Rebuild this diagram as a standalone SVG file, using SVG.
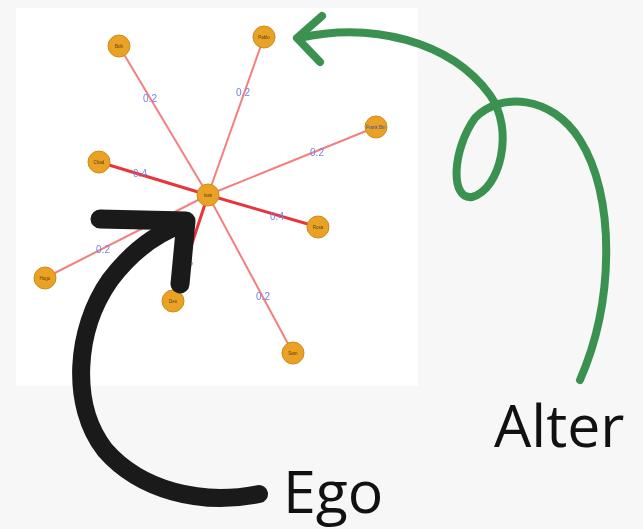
<svg xmlns="http://www.w3.org/2000/svg" width="643" height="529" viewBox="0 0 643 529">
  <defs>
    <filter id="soft" x="-5%" y="-5%" width="110%" height="110%">
      <feGaussianBlur stdDeviation="0.6"/>
    </filter>
    <style>
      .edge { stroke: #f37f7f; stroke-width: 2; fill: none; }
      .edge.strong { stroke: #e8343a; stroke-width: 3; }
      .node circle { fill: #e9a226; stroke: #cf8a14; stroke-width: 1; }
      .node text { font-family: "Liberation Sans", Arial, sans-serif; font-size: 4.5px; fill: #5a3a10; text-anchor: middle; }
      .wlabel { font-family: "Liberation Sans", Arial, sans-serif; font-size: 10px; fill: #7482de; text-anchor: middle; }
      .callout { font-family: "Open Sans", "Noto Sans", sans-serif; font-size: 59px; fill: #111111; }
      .pointer { fill: none; stroke-linecap: round; stroke-linejoin: round; }
    </style>
  </defs>

  <rect x="0" y="0" width="643" height="529" fill="#f7f7f7"/>
  <rect x="16" y="8" width="402" height="378" fill="#ffffff"/>

  <g id="network" filter="url(#soft)">
    <g id="connectors">
      <line class="edge" x1="208" y1="195" x2="119" y2="46"/>
      <line class="edge" x1="208" y1="195" x2="264" y2="37"/>
      <line class="edge" x1="208" y1="195" x2="376" y2="127"/>
      <line class="edge strong" x1="208" y1="195" x2="99" y2="162"/>
      <line class="edge strong" x1="208" y1="195" x2="318" y2="227"/>
      <line class="edge" x1="208" y1="195" x2="45" y2="278"/>
      <line class="edge strong" x1="208" y1="195" x2="173" y2="301"/>
      <line class="edge" x1="208" y1="195" x2="293" y2="353"/>
      <text class="wlabel" x="150" y="102">0.2</text>
      <text class="wlabel" x="243" y="96">0.2</text>
      <text class="wlabel" x="317" y="156">0.2</text>
      <text class="wlabel" x="140" y="177">0.4</text>
      <text class="wlabel" x="277" y="220">0.4</text>
      <text class="wlabel" x="103" y="253">0.2</text>
      <text class="wlabel" x="186" y="266">0.6</text>
      <text class="wlabel" x="263" y="300">0.2</text>
    </g>
    <g id="n-ego" class="node"><circle cx="208" cy="195" r="11"/><text x="208" y="196.5">Ivan</text></g>
    <g id="n-bob" class="node"><circle cx="119" cy="46" r="11"/><text x="119" y="47.5">Bob</text></g>
    <g id="n-pablo" class="node"><circle cx="264" cy="37" r="11"/><text x="264" y="38.5">Pablo</text></g>
    <g id="n-frank" class="node"><circle cx="376" cy="127" r="11"/><text x="376" y="128.5" style="fill:#3a4aa8">Frank Bin</text></g>
    <g id="n-chad" class="node"><circle cx="99" cy="162" r="11"/><text x="99" y="163.5">Chad</text></g>
    <g id="n-rosa" class="node"><circle cx="318" cy="227" r="11"/><text x="318" y="228.5">Rosa</text></g>
    <g id="n-hugo" class="node"><circle cx="45" cy="278" r="11"/><text x="45" y="279.5">Hugo</text></g>
    <g id="n-dex" class="node"><circle cx="173" cy="301" r="11"/><text x="173" y="302.5">Dex</text></g>
    <g id="n-sam" class="node"><circle cx="293" cy="353" r="11"/><text x="293" y="354.5">Sam</text></g>
  </g>

  <!-- hand-drawn pointer to the ego node -->
  <g id="ego-pointer">
    <path class="pointer" stroke="#1a1a1a" stroke-width="18" d="M 259 494 C 200 506, 140 490, 105 450 C 70 405, 75 330, 110 280 C 135 247, 160 232, 183 224"/>
    <path class="pointer" stroke="#1a1a1a" stroke-width="19" stroke-linecap="butt" stroke-linejoin="miter" d="M 100 219 L 186 221 L 180 284"/>
  </g>

  <!-- looping pointer to an alter node -->
  <g id="alter-pointer">
    <path class="pointer" stroke="#3a9150" stroke-width="8" d="M 299 38 C 370 22, 450 40, 490 95 C 515 130, 500 190, 472 197 C 450 200, 452 150, 475 118 C 500 92, 552 95, 580 140 C 615 195, 615 300, 580 380"/>
    <path class="pointer" stroke="#3a9150" stroke-width="8" d="M 322 16 L 297 38 L 320 62"/>
  </g>

  <text id="label-alter" class="callout" x="494" y="447">Alter</text>
  <text id="label-ego" class="callout" x="283" y="513">Ego</text>
</svg>
